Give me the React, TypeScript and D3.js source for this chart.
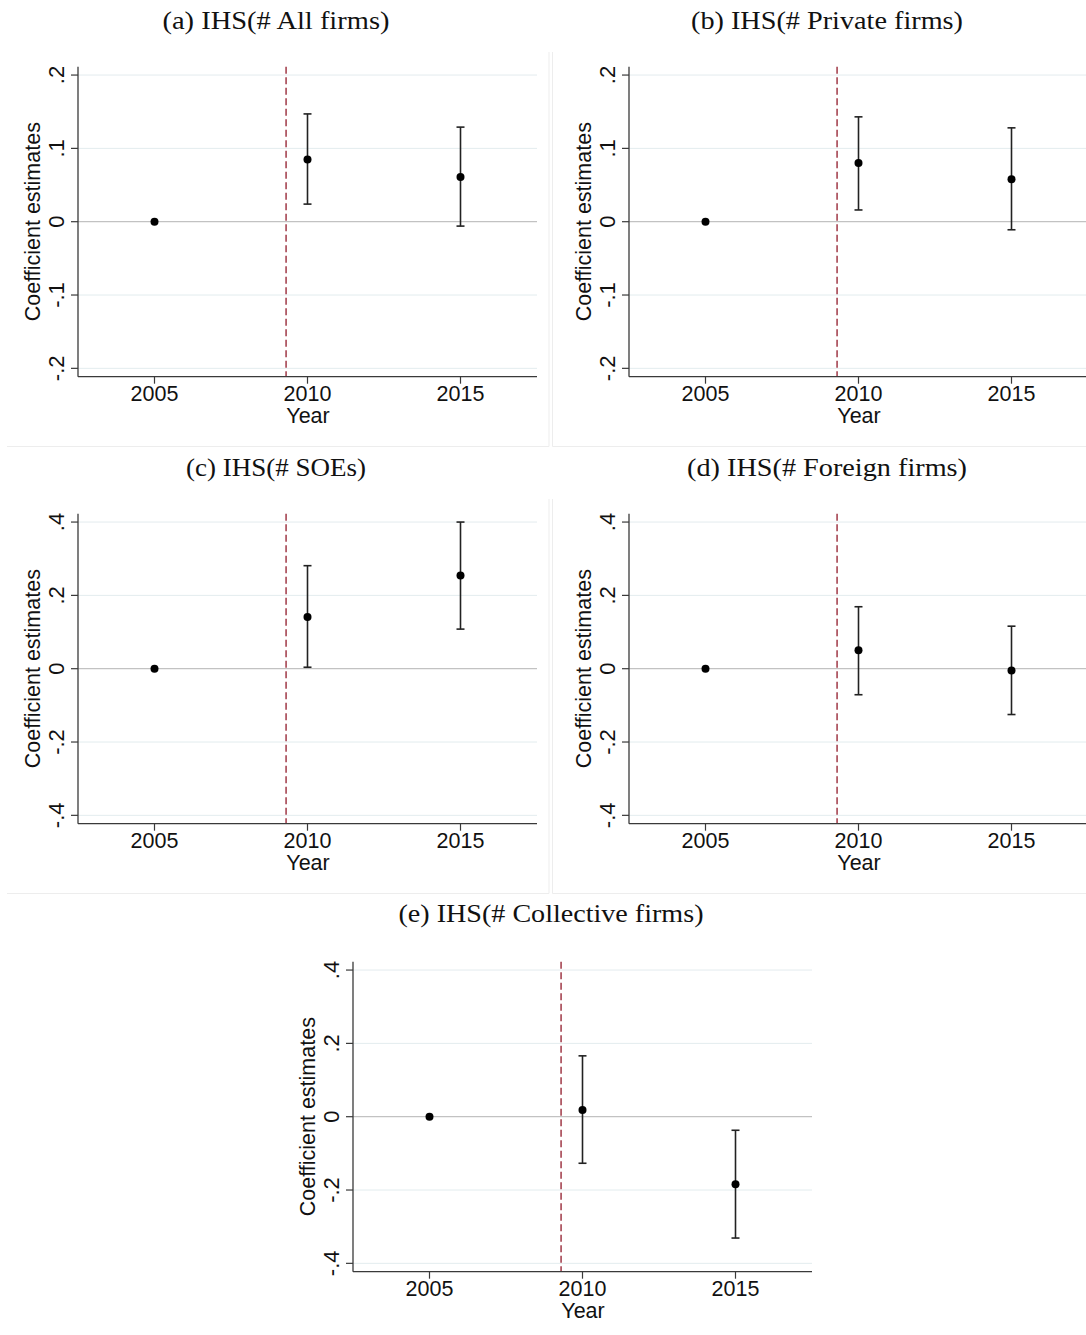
import React from "react";
import * as d3 from "d3";

// Event-study coefficients relative to 2005, with 95% confidence bounds.
const YEARS = [2005, 2010, 2015];
const TREATMENT_YEAR = 2009.3;

const TITLE_A = "(a) IHS(# All firms)";
const EST_A = [0, 0.085, 0.061];
const LO_A = [0, 0.024, -0.006];
const HI_A = [0, 0.147, 0.129];

const TITLE_B = "(b) IHS(# Private firms)";
const EST_B = [0, 0.08, 0.058];
const LO_B = [0, 0.016, -0.011];
const HI_B = [0, 0.143, 0.128];

const TITLE_C = "(c) IHS(# SOEs)";
const EST_C = [0, 0.141, 0.254];
const LO_C = [0, 0.004, 0.108];
const HI_C = [0, 0.281, 0.4];

const TITLE_D = "(d) IHS(# Foreign firms)";
const EST_D = [0, 0.05, -0.005];
const LO_D = [0, -0.071, -0.125];
const HI_D = [0, 0.169, 0.116];

const TITLE_E = "(e) IHS(# Collective firms)";
const EST_E = [0, 0.018, -0.184];
const LO_E = [0, -0.127, -0.331];
const HI_E = [0, 0.166, -0.037];

const TICKS_SMALL = [-0.2, -0.1, 0, 0.1, 0.2];
const TICKS_LARGE = [-0.4, -0.2, 0, 0.2, 0.4];

const Y_TITLE = "Coefficient estimates";
const X_TITLE = "Year";

const PANELS = [
  { title: TITLE_A, est: EST_A, lo: LO_A, hi: HI_A, ticks: TICKS_SMALL },
  { title: TITLE_B, est: EST_B, lo: LO_B, hi: HI_B, ticks: TICKS_SMALL },
  { title: TITLE_C, est: EST_C, lo: LO_C, hi: HI_C, ticks: TICKS_LARGE },
  { title: TITLE_D, est: EST_D, lo: LO_D, hi: HI_D, ticks: TICKS_LARGE },
  { title: TITLE_E, est: EST_E, lo: LO_E, hi: HI_E, ticks: TICKS_LARGE },
];

// Placement of each sub-figure on the page.
const LAYOUT = [
  { dx: 0, dy: 0, titleY: 29, titleW: 227, frame: "left" },
  { dx: 551, dy: 0, titleY: 29, titleW: 272, frame: "right" },
  { dx: 0, dy: 447, titleY: 29, titleW: 180, frame: "left" },
  { dx: 551, dy: 447, titleY: 29, titleW: 280, frame: "right" },
  { dx: 275, dy: 895, titleY: 27, titleW: 305, frame: "none" },
];

const W = 1086;
const H = 1335;
const PLOT_LEFT = 78;
const PLOT_RIGHT = 537;
const PLOT_TOP = 66.7;
const PLOT_BOTTOM = 376.7;
const TITLE_CX = 276;

const SANS = "'Liberation Sans', Arial, sans-serif";
const SERIF = "'Liberation Serif', 'Times New Roman', serif";
const AXIS_COLOR = "#3a3a3a";
const GRID_COLOR = "#e3ecee";
const ZERO_COLOR = "#c2c2c2";
const DASH_COLOR = "#a64552";
const BAR_COLOR = "#222";

// Stata-style tick labels: ".2", "-.1", "0"
const fmtTick = (v: number) => {
  if (v === 0) return "0";
  const s = d3.format(".1f")(Math.abs(v)).replace(/^0\./, ".");
  return (v < 0 ? "-" : "") + s;
};

function Panel({ panel, layout }: { panel: any; layout: any }) {
  const tmax = d3.max(panel.ticks as number[]) as number;
  const lim = tmax * 1.057;
  const x = d3.scaleLinear().domain([2002.5, 2017.5]).range([PLOT_LEFT, PLOT_RIGHT]);
  const y = d3.scaleLinear().domain([-lim, lim]).range([PLOT_BOTTOM, PLOT_TOP]);
  const capHalf = 4;

  return (
    <g transform={`translate(${layout.dx},${layout.dy})`}>
      {layout.frame === "left" && (
        <g stroke="#ededed" strokeWidth={1} fill="none">
          <line x1={7} x2={549} y1={446.5} y2={446.5} />
          <line x1={549} x2={549} y1={52} y2={446.5} />
        </g>
      )}
      {layout.frame === "right" && (
        <g stroke="#ededed" strokeWidth={1} fill="none">
          <line x1={1.5} x2={560} y1={446.5} y2={446.5} />
          <line x1={1.5} x2={1.5} y1={52} y2={446.5} />
        </g>
      )}

      <text
        x={TITLE_CX}
        y={layout.titleY}
        textAnchor="middle"
        fontFamily={SERIF}
        fontSize={25}
        fill="#111"
        textLength={layout.titleW}
        lengthAdjust="spacingAndGlyphs"
      >
        {panel.title}
      </text>

      {/* horizontal gridlines */}
      {(panel.ticks as number[])
        .filter((t) => t !== 0)
        .map((t) => (
          <line
            key={`g${t}`}
            x1={PLOT_LEFT}
            x2={PLOT_RIGHT}
            y1={y(t)}
            y2={y(t)}
            stroke={GRID_COLOR}
            strokeWidth={1}
          />
        ))}

      {/* zero reference line */}
      <line x1={PLOT_LEFT} x2={PLOT_RIGHT} y1={y(0)} y2={y(0)} stroke={ZERO_COLOR} strokeWidth={1.3} />

      {/* treatment timing */}
      <line
        x1={x(TREATMENT_YEAR)}
        x2={x(TREATMENT_YEAR)}
        y1={PLOT_TOP}
        y2={PLOT_BOTTOM}
        stroke={DASH_COLOR}
        strokeWidth={1.6}
        strokeDasharray="7 3.5"
      />

      {/* confidence intervals */}
      {YEARS.map((yr, i) =>
        panel.lo[i] === panel.hi[i] ? null : (
          <g key={`ci${yr}`} stroke={BAR_COLOR} strokeWidth={1.6}>
            <line x1={x(yr)} x2={x(yr)} y1={y(panel.lo[i])} y2={y(panel.hi[i])} />
            <line x1={x(yr) - capHalf} x2={x(yr) + capHalf} y1={y(panel.lo[i])} y2={y(panel.lo[i])} />
            <line x1={x(yr) - capHalf} x2={x(yr) + capHalf} y1={y(panel.hi[i])} y2={y(panel.hi[i])} />
          </g>
        )
      )}

      {/* point estimates */}
      {YEARS.map((yr, i) => (
        <circle key={`p${yr}`} cx={x(yr)} cy={y(panel.est[i])} r={4} fill="#000" />
      ))}

      {/* y axis */}
      <line x1={PLOT_LEFT} x2={PLOT_LEFT} y1={PLOT_TOP} y2={PLOT_BOTTOM} stroke={AXIS_COLOR} strokeWidth={1.3} />
      {(panel.ticks as number[]).map((t) => (
        <g key={`yt${t}`}>
          <line x1={PLOT_LEFT - 7} x2={PLOT_LEFT} y1={y(t)} y2={y(t)} stroke={AXIS_COLOR} strokeWidth={1.2} />
          <text
            transform={`translate(${PLOT_LEFT - 14},${y(t)}) rotate(-90)`}
            textAnchor="middle"
            fontFamily={SANS}
            fontSize={22}
            fill="#111"
          >
            {fmtTick(t)}
          </text>
        </g>
      ))}
      <text
        transform={`translate(40,${(PLOT_TOP + PLOT_BOTTOM) / 2}) rotate(-90)`}
        textAnchor="middle"
        fontFamily={SANS}
        fontSize={21.5}
        fill="#111"
      >
        {Y_TITLE}
      </text>

      {/* x axis */}
      <line x1={PLOT_LEFT} x2={PLOT_RIGHT} y1={PLOT_BOTTOM} y2={PLOT_BOTTOM} stroke={AXIS_COLOR} strokeWidth={1.3} />
      {YEARS.map((yr) => (
        <g key={`xt${yr}`}>
          <line x1={x(yr)} x2={x(yr)} y1={PLOT_BOTTOM} y2={PLOT_BOTTOM + 7} stroke={AXIS_COLOR} strokeWidth={1.2} />
          <text x={x(yr)} y={PLOT_BOTTOM + 24} textAnchor="middle" fontFamily={SANS} fontSize={21.5} fill="#111">
            {yr}
          </text>
        </g>
      ))}
      <text
        x={(PLOT_LEFT + PLOT_RIGHT) / 2 + 0.5}
        y={PLOT_BOTTOM + 46}
        textAnchor="middle"
        fontFamily={SANS}
        fontSize={21.5}
        fill="#111"
      >
        {X_TITLE}
      </text>
    </g>
  );
}

export default function App() {
  return (
    <svg
      width={W}
      height={H}
      viewBox={`0 0 ${W} ${H}`}
      style={{ position: "absolute", left: 0, top: 0, display: "block", background: "#fff" }}
    >
      <rect width={W} height={H} fill="#fff" />
      {PANELS.map((p, i) => (
        <Panel key={i} panel={p} layout={LAYOUT[i]} />
      ))}
    </svg>
  );
}
